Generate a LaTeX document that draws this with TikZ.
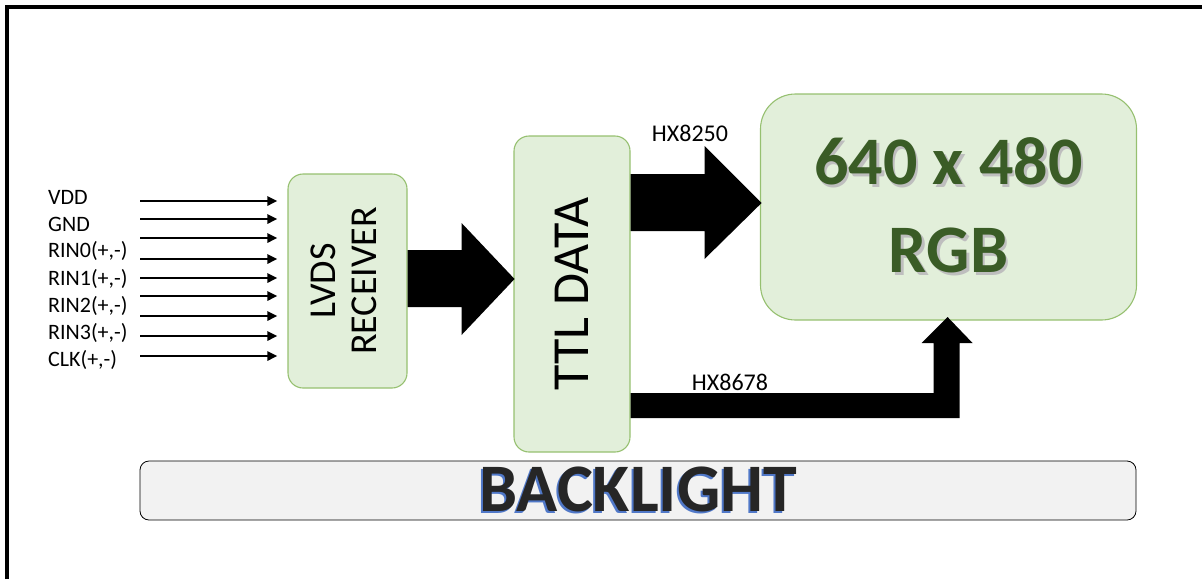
\documentclass[tikz,border=0pt]{standalone}
\usepackage{fontspec}
\setmainfont{Carlito}
\usepackage{tikz}
\usetikzlibrary{positioning,calc,arrows.meta}
\definecolor{boxfill}{RGB}{226,239,218}
\definecolor{boxline}{RGB}{150,192,112}
\definecolor{rgbtext}{RGB}{58,92,38}
\definecolor{shadowgray}{RGB}{190,190,190}
\definecolor{shadowblue}{RGB}{80,120,200}
\definecolor{lightpanel}{RGB}{242,242,242}

% text with a small offset copy behind it
\newcommand{\dropshadow}[4]{\makebox[0pt][l]{\hspace*{#2}\raisebox{#3}{\textcolor{#1}{#4}}}#4}

\begin{document}
\begin{tikzpicture}[
    x=1pt, y=-1pt,
    block/.style={draw=boxline, line width=1.1pt, fill=boxfill, rounded corners=15pt, inner sep=0pt, align=center},
    sig/.style={-{Triangle[length=10pt,width=9pt]}, line width=2.8pt, shorten >=10pt},
    pinlabel/.style={font=\fontsize{22}{26}\selectfont, anchor=west, inner sep=0pt},
    buslabel/.style={font=\fontsize{24}{28}\selectfont, inner sep=0pt},
    blockarrow/.style={fill=black}
]
\useasboundingbox (0,0) rectangle (1202,579);

% Frame
\draw[line width=4pt] (7,579) -- (7,6.5) -- (1202,6.5);

% Blocks
\node[block, minimum width=119pt, minimum height=214pt] (lvds) at (347.5,281)
    {\rotatebox{90}{\fontsize{38}{44}\selectfont\begin{tabular}{c}LVDS\\[-3pt]RECEIVER\end{tabular}}};
\node[block, minimum width=116pt, minimum height=316pt] (ttl) at (572,294)
    {\rotatebox{90}{\fontsize{52}{58}\selectfont TTL DATA}};
\node[block, rounded corners=35pt, minimum width=376pt, minimum height=226pt,
      text=rgbtext, font=\fontsize{68}{88}\selectfont\bfseries] (rgb) at (948.5,207)
    {\dropshadow{shadowgray}{2.5pt}{-2.5pt}{640 x 480}\\\dropshadow{shadowgray}{2.5pt}{-2.5pt}{RGB}};

% Backlight
\node[draw, line width=0.8pt, fill=lightpanel, rounded corners=9pt, minimum width=996pt, minimum height=59pt,
      inner sep=0pt, text=black!85, font=\fontsize{68}{70}\selectfont\bfseries] (backlight) at (638,490.5)
    {\dropshadow{shadowblue}{-2pt}{-2.5pt}{BACKLIGHT}};

% Input signals
\foreach \t [count=\i] in {VDD,GND,{RIN0(+,-)},{RIN1(+,-)},{RIN2(+,-)},{RIN3(+,-)},{CLK(+,-)}}
    \node[pinlabel] (pin\i) at (48,{197+(\i-1)*27.2}) {\t};
\foreach \y [count=\i] in {201,219,238,259,278,296,316,336,356} {
    \coordinate (in\i) at (140,\y);
    \draw[sig] (in\i) -- (lvds.west |- in\i);
}

% LVDS -> TTL
\fill[blockarrow] (lvds.east) ++(0,-31) -- ++(54,0) -- ++(0,-27) -- ++(53,56) -- ++(-53,56)
    -- ++(0,-28) -- ++(-54,0) -- cycle;

% TTL -> RGB
\fill[blockarrow] (ttl.east |- rgb.west) ++(0,-33) -- ++(74,0) -- ++(0,-28) -- ++(57,57)
    -- ++(-57,56) -- ++(0,-28) -- ++(-74,0) -- cycle;
\node[buslabel] (hxa) at (690,133) {HX8250};

% TTL -> RGB (lower path)
\fill[blockarrow] (ttl.east) ++(0,99) -- ++(303,0) -- ++(0,-50) -- ++(-12,0) -- ++(26,-26)
    -- ++(25,26) -- ++(-13,0) -- ++(0,75) -- ++(-329,0) -- cycle;
\node[buslabel] (hxb) at (730,382) {HX8678};

\end{tikzpicture}
\end{document}
